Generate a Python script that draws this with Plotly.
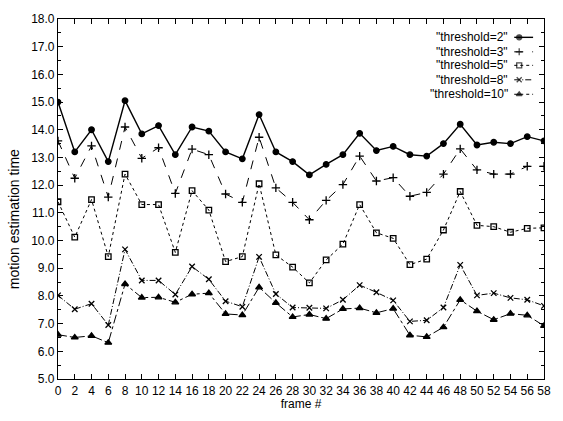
import plotly.graph_objects as go

frames = list(range(0, 60, 2))
t2 = [15.0, 13.2, 14.0, 12.85, 15.05, 13.85, 14.15, 13.1, 14.1, 13.95, 13.2, 12.95, 14.55, 13.2, 12.85,
      12.37, 12.75, 13.1, 13.87, 13.25, 13.4, 13.1, 13.05, 13.5, 14.2, 13.45, 13.55, 13.5, 13.75, 13.6]
t3 = [13.6, 12.25, 13.42, 11.57, 14.1, 12.97, 13.35, 11.7, 13.3, 13.1, 11.68, 11.38, 13.73, 11.9, 11.38,
      10.75, 11.45, 12.02, 13.05, 12.15, 12.27, 11.6, 11.74, 12.4, 13.31, 12.55, 12.4, 12.4, 12.68, 12.68]
t5 = [11.4, 10.12, 11.48, 9.42, 12.4, 11.3, 11.3, 9.57, 11.8, 11.1, 9.24, 9.42, 12.05, 9.48, 9.04,
      8.47, 9.3, 9.87, 11.3, 10.28, 10.08, 9.13, 9.33, 10.38, 11.77, 10.55, 10.5, 10.3, 10.44, 10.46]
t8 = [8.02, 7.52, 7.72, 6.95, 9.68, 8.56, 8.56, 8.05, 9.06, 8.6, 7.81, 7.61, 9.41, 8.07, 7.58,
      7.57, 7.55, 7.86, 8.39, 8.13, 7.84, 7.08, 7.12, 7.58, 9.12, 8.02, 8.1, 7.93, 7.86, 7.64]
t10 = [6.6, 6.5, 6.56, 6.31, 8.43, 7.94, 7.95, 7.77, 8.06, 8.1, 7.35, 7.31, 8.31, 7.75, 7.24,
       7.33, 7.18, 7.53, 7.56, 7.39, 7.54, 6.58, 6.52, 6.87, 7.86, 7.45, 7.14, 7.36, 7.3, 6.92]

names = ['"threshold=2"', '"threshold=3"', '"threshold=5"', '"threshold=8"', '"threshold=10"']
series = [t2, t3, t5, t8, t10]
dashes = ["solid", "dash", "dot", "6px,2px,1px,2px", "dashdot"]
symbols = ["circle", "cross-thin-open", "square-open", "x-thin-open", "triangle-up"]
sizes = [5.5, 6, 5.5, 5.5, 6]
lsizes = [5, 5, 5, 5, 5]
widths = [1.4, 1.0, 1.0, 1.0, 1.0]
ytick_vals = [5 + i for i in range(14)]
ytick_text = [f"{v:.1f}" for v in ytick_vals]

FONT = "Liberation Sans Narrow, Liberation Sans, Arial, sans-serif"
fig = go.Figure()
for name, ys, d, s, sz, w in zip(names, series, dashes, symbols, sizes, widths):
    fig.add_trace(go.Scatter(
        x=frames, y=ys, mode="lines+markers", name=name, showlegend=False,
        line=dict(color="black", width=w, dash=d),
        marker=dict(symbol=s, size=sz, color="black", line=dict(color="black", width=1.3)),
    ))

# custom legend (text right, sample on right) drawn on an overlay axis
L, R, T, B = 58, 548, 13, 386
def px_x(p):
    return (p - L) / (R - L)
def px_y(p):
    return 1 - (p - T) / (B - T)
rows = [32, 47, 61, 76, 91]
for name, d, s, sz, w, r in zip(names, dashes, symbols, lsizes, widths, rows):
    fig.add_annotation(x=px_x(514), y=px_y(r), xref="paper", yref="paper", text=name,
                       showarrow=False, xanchor="right", yanchor="middle",
                       font=dict(family=FONT, size=12, color="black"))
    fig.add_trace(go.Scatter(
        x=[px_x(518), px_x(523), px_x(537)], y=[px_y(r)] * 3, xaxis="x2", yaxis="y2",
        mode="lines+markers", showlegend=False, hoverinfo="skip",
        line=dict(color="black", width=w, dash=d),
        marker=dict(symbol=s, size=[0, sz, 0], color="black", line=dict(color="black", width=1.3)),
    ))

fig.add_annotation(x=px_x(13), y=px_y(220), xref="paper", yref="paper", text="motion estimation time",
                   showarrow=False, textangle=-90, xanchor="center", yanchor="middle",
                   font=dict(family=FONT, size=14, color="black"))

axis_common = dict(showline=True, linecolor="black", linewidth=1.2, mirror="ticks",
                   ticks="inside", tickcolor="black", ticklen=5, showgrid=False, zeroline=False,
                   tickfont=dict(family=FONT, size=12, color="black"))
fig.update_layout(
    width=563, height=421, margin=dict(l=L, r=563 - R, t=T, b=421 - B),
    paper_bgcolor="white", plot_bgcolor="white", showlegend=False,
    font=dict(family=FONT, size=12, color="black"),
    xaxis=dict(range=[0, 58], tickmode="array", tickvals=frames,
               title=dict(text="frame #", font=dict(family=FONT, size=12), standoff=3), **axis_common),
    yaxis=dict(range=[5, 18], tickmode="array", tickvals=ytick_vals, ticktext=ytick_text,
               minor=dict(tickmode="linear", tick0=5, dtick=0.5, ticks="inside", ticklen=3, tickcolor="black"),
               **axis_common),
    xaxis2=dict(overlaying="x", range=[0, 1], visible=False, domain=[0, 1]),
    yaxis2=dict(overlaying="y", range=[0, 1], visible=False),
)
fig.write_html("out.html")
